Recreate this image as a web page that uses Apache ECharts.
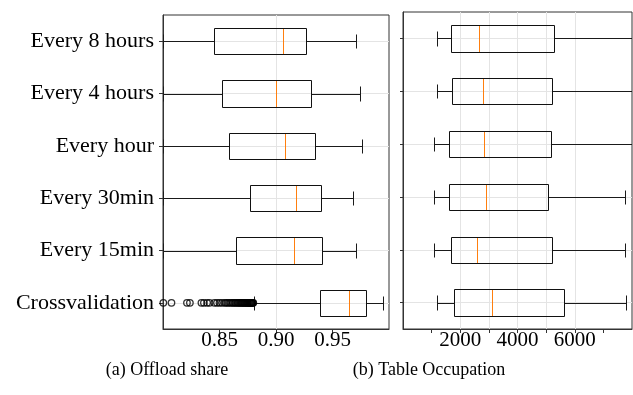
<!DOCTYPE html>
<html>
<head>
<meta charset="utf-8">
<script src="https://cdn.jsdelivr.net/npm/echarts@6/dist/echarts.min.js"></script>
<style>
  html, body { margin: 0; padding: 0; background: #fff; }
  #chart { width: 633px; height: 395px; }
</style>
</head>
<body>
<div id="chart"></div>
<script>
// Retraining schedules, top to bottom
const categories = ['Every 8 hours', 'Every 4 hours', 'Every hour', 'Every 30min', 'Every 15min', 'Crossvalidation'];

// (a) Offload share: whisker ends, quartiles and medians
// (whiskers that run past the axis are cut at its lower bound)
const offloadLow    = [0.80,   0.80,   0.80,   0.80,   0.80,   0.8805];
const offloadQ1     = [0.8451, 0.8525, 0.8587, 0.8773, 0.8643, 0.9392];
const offloadMedian = [0.9062, 0.9000, 0.9080, 0.9177, 0.9162, 0.9646];
const offloadQ3     = [0.9268, 0.9307, 0.9348, 0.9401, 0.9407, 0.9799];
const offloadHigh   = [0.9705, 0.9741, 0.9758, 0.9684, 0.9705, 0.9944];
// fliers of the cross-validation run
const offloadFliers = [0.8003, 0.8075, 0.8212, 0.8238, 0.8340, 0.8362, 0.8390, 0.8412,
  0.8455, 0.8478, 0.8500, 0.8522, 0.8545, 0.8560, 0.8575, 0.8590, 0.8605, 0.8618,
  0.8630, 0.8641, 0.8652, 0.8663, 0.8672, 0.8681, 0.8690, 0.8698, 0.8706, 0.8714,
  0.8721, 0.8728, 0.8735, 0.8742, 0.8748, 0.8754, 0.8760, 0.8766, 0.8771, 0.8776,
  0.8781, 0.8786, 0.8790, 0.8795, 0.8799];
const offloadTicks = [0.85, 0.90, 0.95];

// (b) Table occupation (upper whiskers past the axis are cut at its upper bound)
const tableLow    = [1189, 1189, 1084, 1084, 1084, 1189];
const tableQ1     = [1679, 1714, 1595, 1620, 1679, 1770];
const tableMedian = [2670, 2785, 2845, 2904, 2575, 3100];
const tableQ3     = [5284, 5200, 5165, 5060, 5190, 5620];
const tableHigh   = [8000, 8000, 8000, 7769, 7769, 7790];
const tableTickMarks = [1000, 2000, 3000, 4000, 5000, 6000, 7000];
const tableTickLabels = [2000, 4000, 6000];

const FONT = "'Liberation Serif', 'Times New Roman', serif";
const FRAME = '#333';
const GRID_LINE = '#e4e4e4';

function boxRows(low, q1, med, q3, high) {
  return categories.map((_, i) => [i, low[i], q1[i], med[i], q3[i], high[i]]);
}

// matplotlib-style box: open box, orange median, whiskers with half-width caps
function renderBox(params, api) {
  const c = api.value(0);
  const band = api.size([0, 1])[1];
  const snap = v => Math.round(v) + 0.5;
  const xs = [1, 2, 3, 4, 5].map(i => snap(api.coord([api.value(i), c])[0]));
  const yMid = api.coord([api.value(1), c])[1];
  const lo = xs[0], q1 = xs[1], md = xs[2], q3 = xs[3], hi = xs[4];
  const yc = snap(yMid);
  const yt = snap(yMid - band * 0.25), yb = snap(yMid + band * 0.25);
  const ct = snap(yMid - band * 0.135), cb = snap(yMid + band * 0.135);
  const ink = { stroke: '#1a1a1a', lineWidth: 1, fill: null };
  return {
    type: 'group',
    children: [
      { type: 'line', shape: { x1: lo, y1: yc, x2: q1, y2: yc }, style: ink },
      { type: 'line', shape: { x1: q3, y1: yc, x2: hi, y2: yc }, style: ink },
      { type: 'line', shape: { x1: lo, y1: ct, x2: lo, y2: cb }, style: ink },
      { type: 'line', shape: { x1: hi, y1: ct, x2: hi, y2: cb }, style: ink },
      { type: 'rect', shape: { x: q1, y: yt, width: q3 - q1, height: yb - yt },
        style: { stroke: '#111', lineWidth: 1, fill: null } },
      { type: 'line', shape: { x1: md, y1: yt + 0.5, x2: md, y2: yb - 0.5 },
        style: { stroke: '#ff7f0e', lineWidth: 1 } }
    ]
  };
}

function valueAxis(gridIndex, min, max, interval, ticks, labels, fmt) {
  return {
    gridIndex, type: 'value', min, max, interval,
    axisLine: { show: true, onZero: false, lineStyle: { color: FRAME, width: 1 } },
    axisTick: { show: true, length: 4, customValues: ticks, lineStyle: { color: FRAME } },
    axisLabel: { customValues: labels, formatter: fmt, fontFamily: FONT, fontSize: 21,
                 color: '#000', margin: 1 },
    splitLine: { show: true, showMinLine: false, showMaxLine: false,
                 lineStyle: { color: GRID_LINE, width: 1 } }
  };
}

function categoryAxis(gridIndex, showLabels, tickLen) {
  return {
    gridIndex, type: 'category', data: categories, inverse: true,
    axisLine: { show: true, lineStyle: { color: FRAME, width: 1 } },
    axisTick: { show: true, alignWithLabel: true, length: tickLen, lineStyle: { color: FRAME } },
    axisLabel: { show: showLabels, interval: 0, fontFamily: FONT, fontSize: 22,
                 color: '#000', margin: 9 },
    splitLine: { show: true, interval: 0, alignWithLabel: true,
                 lineStyle: { color: GRID_LINE, width: 1 } }
  };
}

const chart = echarts.init(document.getElementById('chart'), null, { renderer: 'canvas' });

chart.setOption({
  animation: false,
  backgroundColor: '#fff',
  grid: [
    { left: 163, top: 15, width: 226, height: 314, show: true,
      borderColor: FRAME, borderWidth: 1, backgroundColor: 'transparent' },
    { left: 403, top: 12, width: 229, height: 317, show: true,
      borderColor: FRAME, borderWidth: 1, backgroundColor: 'transparent' }
  ],
  xAxis: [
    valueAxis(0, 0.8, 1.0, 0.05, offloadTicks, offloadTicks, v => v.toFixed(2)),
    valueAxis(1, 0, 8000, 1000, tableTickMarks, tableTickLabels, v => String(v))
  ],
  yAxis: [
    categoryAxis(0, true, 4),
    categoryAxis(1, false, 3)
  ],
  graphic: [
    { type: 'text', x: 167, y: 370,
      style: { text: '(a) Offload share', font: '18px ' + FONT, fill: '#000',
               align: 'center', verticalAlign: 'middle' } },
    { type: 'text', x: 429, y: 370,
      style: { text: '(b) Table Occupation', font: '18px ' + FONT, fill: '#000',
               align: 'center', verticalAlign: 'middle' } }
  ],
  series: [
    {
      name: 'Offload share', type: 'custom', xAxisIndex: 0, yAxisIndex: 0,
      clip: true, renderItem: renderBox,
      encode: { x: [1, 2, 3, 4, 5], y: 0 },
      data: boxRows(offloadLow, offloadQ1, offloadMedian, offloadQ3, offloadHigh)
    },
    {
      name: 'Offload fliers', type: 'scatter', xAxisIndex: 0, yAxisIndex: 0,
      symbol: 'circle', symbolSize: 6.5,
      itemStyle: { color: 'rgba(0,0,0,0)', borderColor: '#000', borderWidth: 1.3 },
      data: offloadFliers.map(v => [v, categories.length - 1])
    },
    {
      name: 'Table occupation', type: 'custom', xAxisIndex: 1, yAxisIndex: 1,
      clip: true, renderItem: renderBox,
      encode: { x: [1, 2, 3, 4, 5], y: 0 },
      data: boxRows(tableLow, tableQ1, tableMedian, tableQ3, tableHigh)
    }
  ]
});
</script>
</body>
</html>
